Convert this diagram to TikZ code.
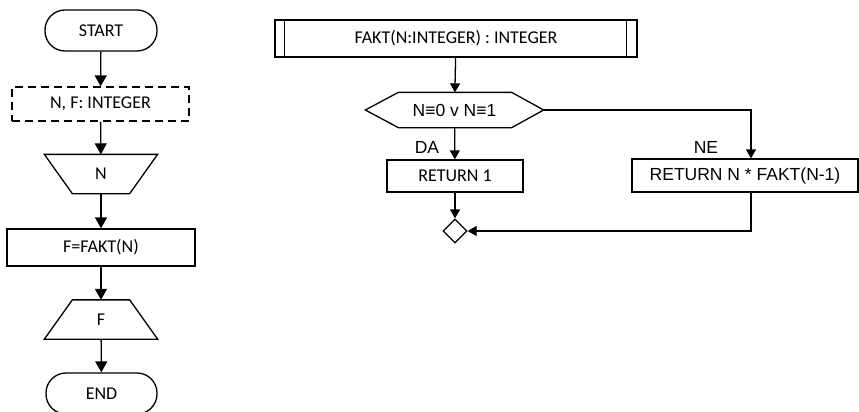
\documentclass[tikz,border=0pt]{standalone}
\usepackage{fontspec}
\setmainfont{Carlito}
\newfontfamily\arial{Liberation Sans}
\usetikzlibrary{arrows.meta,shapes.geometric,calc}

\begin{document}
\begin{tikzpicture}[x=1pt,y=-1pt,line width=1.3pt,
  base/.style={inner sep=0pt,font=\fontsize{18}{21}\selectfont},
  box/.style={base,draw,rectangle},
  term/.style={box,rounded corners=20pt,minimum width=112pt,minimum height=41pt},
  decl/.style={box,dash pattern=on 8pt off 5pt,minimum width=177pt,minimum height=34pt},
  io/.style={base,rectangle,minimum width=112pt,minimum height=38pt},
  lbl/.style={inner sep=0pt,font=\arial\fontsize{17.5}{20}\selectfont},
  flow/.style={-{Triangle[length=11pt,width=12pt]}},
  flowr/.style={-{Triangle[length=9pt,width=10pt]}}]

\useasboundingbox (0,0) rectangle (859,412);

% main program
\node[term] (start) at (101,30.5) {START};
\node[decl] (vars) at (100.5,104) {N, F: INTEGER};
\node[io] (inN) at (101,174) {N};
\draw (inN.north west) -- (inN.north east) -- ($(inN.south east)+(-28,0)$)
  -- ($(inN.south west)+(28,0)$) -- cycle;
\node[box,minimum width=188pt,minimum height=37pt] (call) at (101,247.5) {F=FAKT(N)};
\node[io] (outF) at (101,319.5) {F};
\draw (outF.south west) -- (outF.south east) -- ($(outF.north east)+(-28,0)$)
  -- ($(outF.north west)+(28,0)$) -- cycle;
\node[term,minimum width=111pt] (stop) at (101.5,393.5) {END};

\draw[flow] (start) -- (vars);
\draw[flow] (vars) -- (inN);
\draw[flow] (inN) -- (call);
\draw[flow] (call) -- (outF);
\draw[flow] (outF) -- (stop);

% function FAKT
\node[box,minimum width=362pt,minimum height=37pt] (fakt) at (456,38.5) {FAKT(N:INTEGER) : INTEGER};
\draw ($(fakt.north west)+(10,0)$) -- ($(fakt.south west)+(10,0)$);
\draw ($(fakt.north east)+(-11,0)$) -- ($(fakt.south east)+(-11,0)$);

\node[base,minimum width=177pt,minimum height=34pt,font=\arial\fontsize{17.5}{20}\selectfont]
  (cond) at (454.5,110) {N≡0 v N≡1};
\draw (cond.west) -- ($(cond.north west)+(33,0)$) -- ($(cond.north east)+(-32,0)$)
  -- (cond.east) -- ($(cond.south east)+(-32,0)$) -- ($(cond.south west)+(33,0)$) -- cycle;

\node[box,minimum width=136pt,minimum height=32pt] (ret1) at (455,176) {RETURN 1};
\node[box,minimum width=226pt,minimum height=33pt,font=\arial\fontsize{17.5}{20}\selectfont]
  (retn) at (745,175.5) {RETURN N * FAKT(N-1)};
\node[base,draw,shape=diamond,minimum width=24pt,minimum height=24pt] (merge) at (455,231) {};

\coordinate (nx) at (751,0);

\draw[flowr] (fakt) -- (cond);
\draw[flowr] (cond) -- (ret1);
\draw[flowr] (ret1) -- (merge);
\draw[flowr] (cond.east) -| (nx |- retn.north);
\draw[flowr] (nx |- retn.south) |- (merge.east);

\node[lbl] (da) at (427,147) {DA};
\node[lbl] (ne) at (706,147) {NE};
\end{tikzpicture}
\end{document}
